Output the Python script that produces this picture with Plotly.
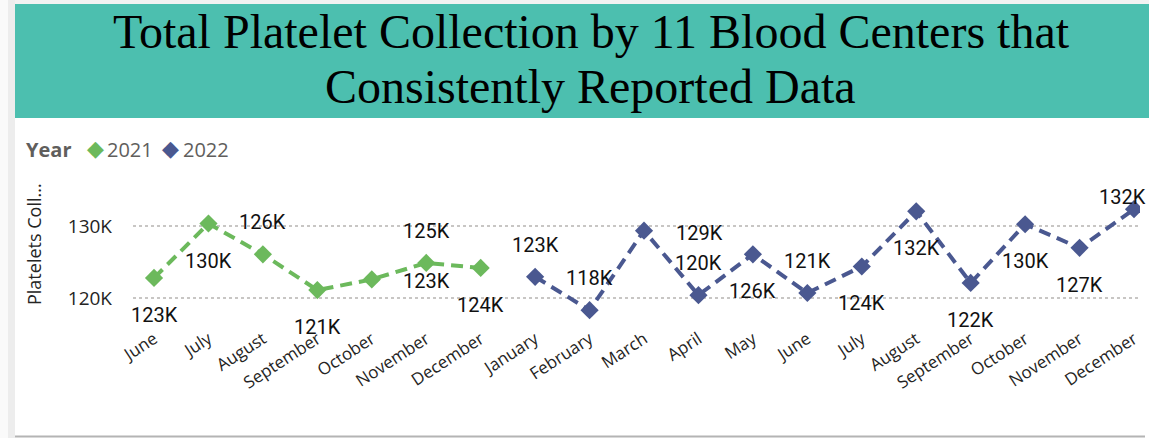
import plotly.graph_objects as go

# data (monthly platelet collection, units)
months_2021 = ["June", "July", "August", "September", "October", "November", "December"]
months_2022 = ["January", "February", "March", "April", "May", "June", "July",
               "August", "September", "October", "November", "December"]
vals_2021 = [122800, 130400, 126100, 121100, 122600, 124900, 124200]
vals_2022 = [122960, 118300, 129400, 120400, 126100, 120700, 124400,
             132100, 122100, 130300, 127000, 132400]
y_ticks = [120000, 130000]
y_tick_labels = ["120K", "130K"]

GREEN = "#6CB95C"
NAVY = "#4A5890"
TEAL = "#4CBFAF"

W, H = 1149, 438
L, R, T, B = 133, 9, 190, 113
PW, PH = W - L - R, H - T - B


def px2x(px):
    return (px - L) / PW


def py2y(py):
    return (H - B - py) / PH


x_2021 = list(range(len(months_2021)))
x_2022 = list(range(len(months_2021), len(months_2021) + len(months_2022)))
all_months = months_2021 + months_2022

fig = go.Figure()
dash = "12px,7px"
fig.add_trace(go.Scatter(x=x_2021, y=vals_2021, mode="lines+markers", name="2021",
                         line=dict(color=GREEN, width=4, dash=dash),
                         marker=dict(symbol="diamond", size=14, color=GREEN),
                         showlegend=False))
fig.add_trace(go.Scatter(x=x_2022, y=vals_2022, mode="lines+markers", name="2022",
                         line=dict(color=NAVY, width=4, dash=dash),
                         marker=dict(symbol="diamond", size=14, color=NAVY),
                         showlegend=False))

# data label placement: a = above, b = below, r = beside next point
place_2021 = ["b", "b", "a", "b", "r", "a", "b"]
place_2022 = ["a", "a", "r", "a", "b", "a", "b", "b", "b", "b", "b", "t"]
label_font = dict(family="Roboto, DejaVu Sans", size=20, color="#111111")
for xs, vs, pl in [(x_2021, vals_2021, place_2021), (x_2022, vals_2022, place_2022)]:
    for x, v, p in zip(xs, vs, pl):
        xs_, ys_ = 0, 0
        if p == "a":
            ys_ = 32
        elif p == "b":
            ys_ = -37
        elif p == "r":
            xs_, ys_ = 55, -2
        elif p == "t":
            xs_, ys_ = -12, 12
        fig.add_annotation(x=x, y=v, text=f"{round(v / 1000)}K", showarrow=False,
                           xshift=xs_, yshift=ys_, font=label_font,
                           xanchor="center", yanchor="middle")

shapes = [
    dict(type="rect", xref="paper", yref="paper", x0=px2x(0), x1=px2x(W), y0=py2y(4), y1=py2y(0),
         fillcolor="#F2F2F2", line_width=0, layer="below"),
    dict(type="rect", xref="paper", yref="paper", x0=px2x(0), x1=px2x(8), y0=py2y(H), y1=py2y(0),
         fillcolor="#FAFAFA", line_width=0, layer="below"),
    dict(type="rect", xref="paper", yref="paper", x0=px2x(8), x1=px2x(15), y0=py2y(H), y1=py2y(0),
         fillcolor="#EDEDED", line_width=0, layer="below"),
    dict(type="rect", xref="paper", yref="paper", x0=px2x(15), x1=px2x(W), y0=py2y(118), y1=py2y(4),
         fillcolor=TEAL, line_width=0, layer="below"),
    dict(type="line", xref="paper", yref="paper", x0=px2x(15), x1=px2x(1145), y0=py2y(436.5), y1=py2y(436.5),
         line=dict(color="#B4B4B4", width=2)),
]

title_font = dict(family="Liberation Serif, Times New Roman, serif", size=48, color="#000000")
fig.add_annotation(xref="paper", yref="paper", x=px2x(591), y=py2y(32), text="Total Platelet Collection by 11 Blood Centers that",
                   showarrow=False, font=title_font, xanchor="center", yanchor="middle")
fig.add_annotation(xref="paper", yref="paper", x=px2x(590), y=py2y(86), text="Consistently Reported Data",
                   showarrow=False, font=title_font, xanchor="center", yanchor="middle")

# legend drawn as text
leg_font = dict(family="Open Sans, Noto Sans", size=20, color="#605E5C")
fig.add_annotation(xref="paper", yref="paper", x=px2x(24), y=py2y(149), xanchor="left", yanchor="middle",
                   showarrow=False, font=leg_font, text="<b>Year</b>")
for cx, tx, col, name in [(95, 105, GREEN, "2021"), (170, 181, NAVY, "2022")]:
    fig.add_annotation(xref="paper", yref="paper", x=px2x(cx), y=py2y(148), xanchor="center", yanchor="middle",
                       showarrow=False, font=dict(family="DejaVu Sans", size=22, color=col), text="◆")
    fig.add_annotation(xref="paper", yref="paper", x=px2x(tx), y=py2y(149), xanchor="left", yanchor="middle",
                       showarrow=False, font=leg_font, text=name)

# y axis title
fig.add_annotation(xref="paper", yref="paper", x=px2x(34), y=py2y(244), xanchor="center", yanchor="middle",
                   showarrow=False, textangle=-90, text="Platelets Coll...",
                   font=dict(family="Open Sans, Noto Sans", size=18, color="#252423"))

axis_font = dict(family="Open Sans, Noto Sans", size=17, color="#252423")
fig.update_xaxes(range=[-0.386, 18.11], tickmode="array", tickvals=x_2021 + x_2022, ticktext=all_months,
                 tickangle=-33, tickfont=axis_font, showgrid=False, zeroline=False, showline=False, ticks="")
fig.update_yaxes(range=[116230, 135080], tickmode="array", tickvals=y_ticks, ticktext=y_tick_labels,
                 tickfont=dict(family="Open Sans, Noto Sans", size=19, color="#252423"),
                 showgrid=True, gridcolor="#C8C6C4", griddash="dot", gridwidth=1.5,
                 zeroline=False, showline=False, ticks="", ticklabelstandoff=20)

fig.update_layout(width=W, height=H, margin=dict(l=L, r=R, t=T, b=B, autoexpand=False),
                  paper_bgcolor="white", plot_bgcolor="white", shapes=shapes, showlegend=False)
fig.write_html("out.html", config={"displayModeBar": False},
               post_script="document.body.style.margin='0';")
